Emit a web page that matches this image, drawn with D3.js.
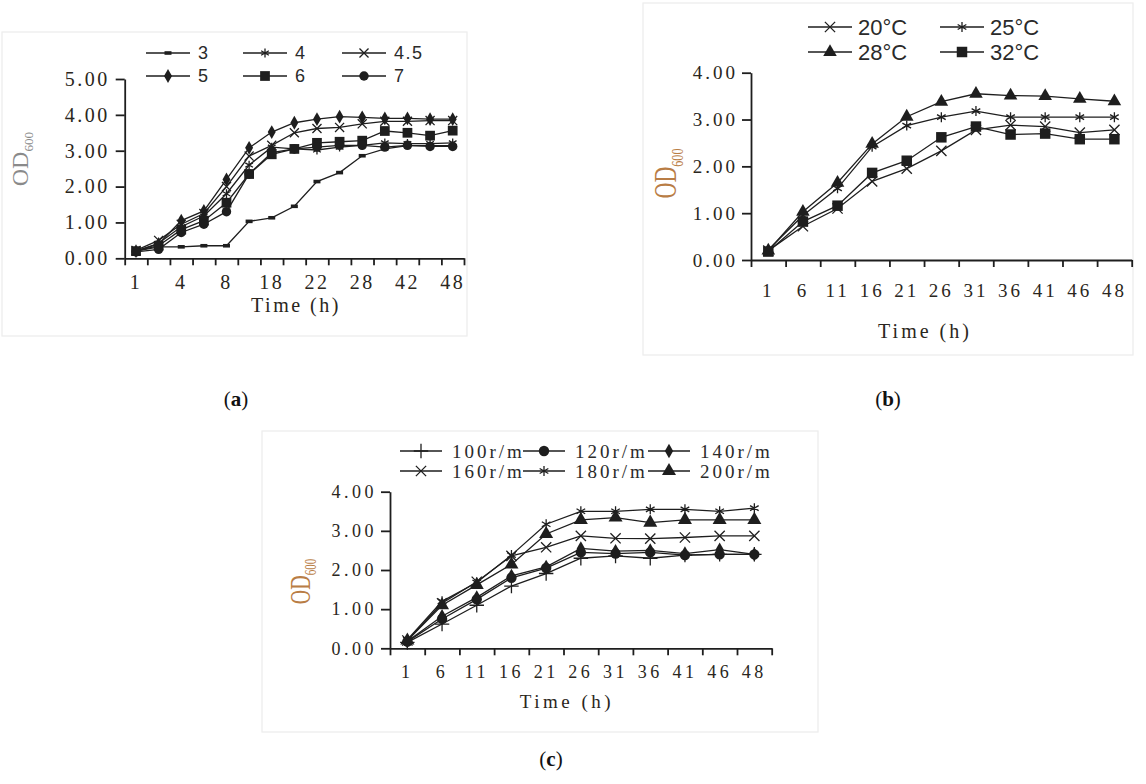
<!DOCTYPE html>
<html>
<head>
<meta charset="utf-8">
<script src="https://cdn.jsdelivr.net/npm/d3@7"></script>
<style>
  body { margin: 0; background: #fff; }
  svg { display: block; }
</style>
</head>
<body>
<svg id="chart" width="1146" height="784"></svg>
<script>
// ---- data ----
var catsA = ["1", "2", "4", "6", "8", "12", "18", "20", "22", "25", "28", "36", "42", "45", "48"];
var namesA = ["3", "4", "4.5", "5", "6", "7"];
var pH3  = [0.20, 0.32, 0.32, 0.35, 0.35, 1.03, 1.13, 1.45, 2.14, 2.39, 2.86, 3.05, 3.14, 3.14, 3.14];
var pH4  = [0.20, 0.42, 0.88, 1.18, 1.80, 2.60, 3.10, 3.05, 3.02, 3.10, 3.15, 3.22, 3.20, 3.20, 3.22];
var pH45 = [0.22, 0.50, 0.95, 1.25, 2.00, 2.85, 3.15, 3.50, 3.62, 3.65, 3.75, 3.82, 3.82, 3.84, 3.84];
var pH5  = [0.20, 0.40, 1.05, 1.32, 2.20, 3.08, 3.52, 3.78, 3.88, 3.95, 3.93, 3.90, 3.90, 3.88, 3.88];
var pH6  = [0.20, 0.35, 0.80, 1.05, 1.55, 2.35, 2.90, 3.05, 3.22, 3.25, 3.28, 3.55, 3.50, 3.42, 3.56];
var pH7  = [0.18, 0.25, 0.72, 0.95, 1.30, 2.35, 2.95, 3.05, 3.10, 3.15, 3.15, 3.10, 3.15, 3.12, 3.12];

var catsBC = ["1", "6", "11", "16", "21", "26", "31", "36", "41", "46", "48"];
var namesB = ["20\u00b0C", "25\u00b0C", "28\u00b0C", "32\u00b0C"];
var temp20 = [0.20, 0.72, 1.10, 1.68, 1.95, 2.33, 2.78, 2.88, 2.85, 2.72, 2.78];
var temp25 = [0.22, 0.95, 1.53, 2.42, 2.87, 3.05, 3.18, 3.05, 3.05, 3.05, 3.05];
var temp28 = [0.20, 1.03, 1.65, 2.48, 3.06, 3.38, 3.55, 3.51, 3.50, 3.44, 3.39];
var temp32 = [0.18, 0.82, 1.16, 1.86, 2.12, 2.62, 2.85, 2.68, 2.70, 2.58, 2.58];

var namesC = ["100r/m", "120r/m", "140r/m", "160r/m", "180r/m", "200r/m"];
var rpm100 = [0.15, 0.62, 1.10, 1.59, 1.91, 2.30, 2.36, 2.30, 2.38, 2.40, 2.40];
var rpm120 = [0.17, 0.75, 1.25, 1.80, 2.05, 2.45, 2.42, 2.45, 2.38, 2.40, 2.40];
var rpm140 = [0.18, 0.82, 1.30, 1.85, 2.08, 2.55, 2.48, 2.50, 2.42, 2.52, 2.40];
var rpm160 = [0.20, 1.15, 1.70, 2.36, 2.58, 2.87, 2.81, 2.80, 2.83, 2.87, 2.87];
var rpm180 = [0.22, 1.20, 1.68, 2.38, 3.17, 3.50, 3.50, 3.55, 3.55, 3.50, 3.58];
var rpm200 = [0.20, 1.10, 1.62, 2.14, 2.92, 3.28, 3.34, 3.21, 3.28, 3.28, 3.28];

var INK = "#1e1e1e";
var SERIF = "'Liberation Serif', 'Times New Roman', serif";
var SANS = "'Liberation Sans', Arial, sans-serif";
var svg = d3.select("#chart");

function addMarker(sel, type, size) {
    if (type === "dash") {
        sel.append("rect").attr("x", -3.5).attr("y", -1.8).attr("width", 7).attr("height", 3.6).attr("fill", INK);
        return;
    }
    var sym = {
        times: d3.symbolTimes, asterisk: d3.symbolAsterisk || d3.symbolCross, plus: d3.symbolPlus || d3.symbolCross,
        diamond: d3.symbolDiamond, square: d3.symbolSquare, circle: d3.symbolCircle, triangle: d3.symbolTriangle
    }[type];
    var stroked = (type === "times" || type === "asterisk" || type === "plus");
    sel.append("path")
        .attr("d", d3.symbol().type(sym).size(size)())
        .attr("fill", stroked ? "none" : INK)
        .attr("stroke", stroked ? INK : "none")
        .attr("stroke-width", 1.3);
}

function drawPanel(p) {
    var g = svg.append("g");
    // faint frame
    g.append("rect").attr("x", p.frame[0]).attr("y", p.frame[1])
        .attr("width", p.frame[2] - p.frame[0]).attr("height", p.frame[3] - p.frame[1])
        .attr("fill", "none").attr("stroke", "#ececec").attr("stroke-width", 1.2);

    var x = d3.scaleBand().domain(d3.range(p.cats.length)).range([p.x0, p.x1]);
    var xb = d3.scaleLinear().domain([0, p.cats.length]).range([p.x0, p.x1]);
    var y = d3.scaleLinear().domain([0, p.yMax]).range([p.yBase, p.yTop]);

    // y axis
    var ya = g.append("g").attr("transform", "translate(" + p.x0 + ",0)")
        .call(d3.axisLeft(y).ticks(p.yMax).tickFormat(d3.format(".2f")).tickSize(9).tickSizeOuter(0).tickPadding(p.yPad));
    ya.selectAll("text").style("font-family", SERIF).style("font-size", p.tickFont + "px")
        .style("letter-spacing", p.ls + "px").attr("fill", "#2a2620");

    // x axis: ticks on category boundaries, labels on category centres
    g.append("g").attr("transform", "translate(0," + p.yBase + ")")
        .call(d3.axisBottom(xb).tickValues(d3.range(p.cats.length + 1)).tickFormat("").tickSize(7).tickSizeOuter(0));
    g.append("g").attr("transform", "translate(0," + p.yBase + ")")
        .call(d3.axisBottom(x).tickSize(0).tickFormat(function(i) { return i % p.every === 0 ? p.cats[i] : ""; }))
        .call(function(s) { s.select(".domain").remove(); })
        .selectAll("text").attr("y", p.xLabOff).attr("dy", null)
        .style("font-family", SERIF).style("font-size", p.tickFont + "px")
        .style("letter-spacing", p.ls + "px").attr("fill", "#2a2620");
    g.selectAll(".domain, .tick line").attr("stroke", INK).attr("stroke-width", 1.8);

    // series
    var line = d3.line().x(function(d, i) { return x(i) + x.bandwidth() / 2; }).y(function(d) { return y(d); });
    p.series.forEach(function(s) {
        g.append("path").datum(s.values).attr("d", line)
            .attr("fill", "none").attr("stroke", INK).attr("stroke-width", 1.3);
        g.selectAll(null).data(s.values).enter().append("g")
            .attr("transform", function(d, i) { return "translate(" + (x(i) + x.bandwidth() / 2) + "," + y(d) + ")"; })
            .each(function() { addMarker(d3.select(this), s.marker, s.size); });
    });

    // legend
    p.series.forEach(function(s, i) {
        var lx = p.legCols[i % p.legCols.length], ly = p.legRows[Math.floor(i / p.legCols.length)];
        var lg = g.append("g");
        lg.append("line").attr("x1", lx).attr("x2", lx + p.legLen).attr("y1", ly).attr("y2", ly)
            .attr("stroke", INK).attr("stroke-width", 1.5);
        addMarker(lg.append("g").attr("transform", "translate(" + (lx + p.legLen / 2) + "," + ly + ")"), s.marker, s.size);
        lg.append("text").attr("x", lx + p.legLen + p.legGap).attr("y", ly).attr("dy", "0.36em")
            .style("font-family", p.legFamily).style("font-size", p.legFont + "px").style("letter-spacing", p.legLs + "px")
            .attr("fill", "#2a2a2a").text(s.name);
    });

    // axis titles
    var od = g.append("text")
        .attr("transform", "translate(" + p.od[0] + "," + p.od[1] + ") scale(" + p.od[2] + ",1) rotate(-90)")
        .attr("text-anchor", "middle").style("font-family", SERIF)
        .style("font-size", p.od[3] + "px").attr("fill", p.odColor);
    od.append("tspan").text("OD");
    od.append("tspan").style("font-size", (p.od[3] * 0.55) + "px").attr("dy", p.od[3] * 0.22).text("600");

    g.append("text").attr("x", p.time[0]).attr("y", p.time[1]).attr("text-anchor", "middle")
        .style("font-family", SERIF).style("font-size", p.time[2] + "px")
        .style("letter-spacing", p.ls + "px").attr("fill", "#2a2620").text("Time (h)");

    var cap = g.append("text").attr("x", p.cap[0]).attr("y", p.cap[1]).attr("text-anchor", "middle")
        .style("font-family", SERIF).style("font-size", "21px").attr("fill", "#111");
    cap.append("tspan").text("(");
    cap.append("tspan").attr("font-weight", "bold").text(p.capLetter);
    cap.append("tspan").text(")");
}

drawPanel({
    frame: [2, 32, 467, 336],
    cats: catsA, every: 2, x0: 124.7, x1: 464, yMax: 5, yBase: 258.3, yTop: 79,
    tickFont: 20, ls: 2.5, yPad: 6, xLabOff: 31,
    series: [
        { name: namesA[0], values: pH3, marker: "dash", size: 0 },
        { name: namesA[1], values: pH4, marker: "asterisk", size: 55 },
        { name: namesA[2], values: pH45, marker: "times", size: 55 },
        { name: namesA[3], values: pH5, marker: "diamond", size: 55 },
        { name: namesA[4], values: pH6, marker: "square", size: 95 },
        { name: namesA[5], values: pH7, marker: "circle", size: 70 }
    ],
    legCols: [146, 243, 342], legRows: [53, 76], legLen: 44, legGap: 8,
    legFamily: SANS, legFont: 18, legLs: 1.5,
    od: [28, 159, 1, 24], odColor: "#8a8a8a",
    time: [296, 311.5, 20],
    cap: [236, 406], capLetter: "a"
});

drawPanel({
    frame: [643, 3, 1133, 355],
    cats: catsBC, every: 1, x0: 751, x1: 1131.7, yMax: 4, yBase: 260, yTop: 72.7,
    tickFont: 19, ls: 3, yPad: 4, xLabOff: 37,
    series: [
        { name: namesB[0], values: temp20, marker: "times", size: 70 },
        { name: namesB[1], values: temp25, marker: "asterisk", size: 70 },
        { name: namesB[2], values: temp28, marker: "triangle", size: 80 },
        { name: namesB[3], values: temp32, marker: "square", size: 110 }
    ],
    legCols: [808, 940], legRows: [27, 52], legLen: 44, legGap: 6,
    legFamily: SANS, legFont: 22, legLs: 0,
    od: [676, 173.5, 1.45, 22], odColor: "#b97d45",
    time: [925, 338, 20],
    cap: [888, 406], capLetter: "b"
});

drawPanel({
    frame: [262, 431, 818, 732],
    cats: catsBC, every: 1, x0: 390, x1: 771.7, yMax: 4, yBase: 648.3, yTop: 491.7,
    tickFont: 18, ls: 3.5, yPad: 4, xLabOff: 30,
    series: [
        { name: namesC[0], values: rpm100, marker: "plus", size: 70 },
        { name: namesC[1], values: rpm120, marker: "circle", size: 85 },
        { name: namesC[2], values: rpm140, marker: "diamond", size: 60 },
        { name: namesC[3], values: rpm160, marker: "times", size: 70 },
        { name: namesC[4], values: rpm180, marker: "asterisk", size: 70 },
        { name: namesC[5], values: rpm200, marker: "triangle", size: 85 }
    ],
    legCols: [400, 523, 648], legRows: [451, 471], legLen: 42, legGap: 10,
    legFamily: SERIF, legFont: 19, legLs: 3,
    od: [310, 581.5, 1.45, 20], odColor: "#b97d45",
    time: [567, 708, 19],
    cap: [551, 766], capLetter: "c"
});
</script>
</body>
</html>
